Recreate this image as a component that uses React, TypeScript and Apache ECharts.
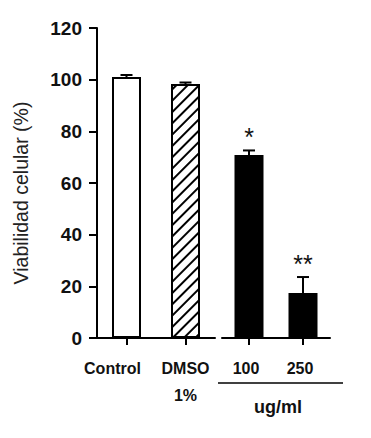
import React, { useEffect, useRef } from "react";
import * as echarts from "echarts";

const groupACategories = ["Control", "DMSO\n1%"];
const groupAValues = [101, 98.3];
const groupAErrors = [0.8, 0.6];
const groupASig = ["", ""];

const groupBCategories = ["100", "250"];
const groupBValues = [70.8, 17.4];
const groupBErrors = [1.8, 6.2];
const groupBSig = ["*", "**"];

const yTicks = { min: 0, max: 120, interval: 20 };
const yAxisName = "Viabilidad celular (%)";
const unitLabel = "ug/ml";

const errorSeries = (xi: number, values: number[], errs: number[], sig: string[]) => ({
  type: "custom",
  xAxisIndex: xi,
  yAxisIndex: xi,
  z: 5,
  data: values.map((v, i) => [i, v, errs[i]]),
  renderItem: (params: any, api: any) => {
    const x = api.value(0);
    const v = api.value(1);
    const e = api.value(2);
    const base = api.coord([x, v]);
    const top = api.coord([x, v + e]);
    const s = sig[params.dataIndex];
    const children: any[] = [
      { type: "line", shape: { x1: base[0], y1: base[1], x2: top[0], y2: top[1] }, style: { stroke: "#000", lineWidth: 2 } },
      { type: "line", shape: { x1: top[0] - 6, y1: top[1], x2: top[0] + 6, y2: top[1] }, style: { stroke: "#000", lineWidth: 2 } },
    ];
    if (s) {
      children.push({
        type: "text",
        style: { text: s, x: top[0], y: top[1] - 1, align: "center", verticalAlign: "bottom", fontSize: 25, fontFamily: "Liberation Sans", fill: "#111" },
      });
    }
    return { type: "group", children };
  },
});

export default function App() {
  const ref = useRef<HTMLDivElement>(null);
  useEffect(() => {
    if (!ref.current) return;
    const chart = echarts.init(ref.current, null, { renderer: "svg" });
    const axisLine = { show: true, lineStyle: { color: "#000", width: 2 } };
    const xLabel = {
      color: "#111",
      fontWeight: "bold",
      fontSize: 16,
      fontFamily: "Liberation Sans",
      margin: 17,
      lineHeight: 27,
      interval: 0,
    };
    chart.setOption({
      animation: false,
      backgroundColor: "#fff",
      grid: [
        { left: 97, width: 118, top: 28, bottom: 100 },
        { left: 222, width: 108, top: 28, bottom: 100 },
      ],
      xAxis: [
        {
          type: "category",
          gridIndex: 0,
          data: groupACategories,
          axisLine,
          axisTick: { show: true, alignWithLabel: true, length: 7, lineStyle: { color: "#000", width: 2 } },
          axisLabel: {
            ...xLabel,
            formatter: (v: string) => (v === "Control" ? "{c|Control}" : v),
            rich: { c: { fontWeight: "bold", fontSize: 16, fontFamily: "Liberation Sans", color: "#111", padding: [0, 28, 0, 0] } },
          },
        },
        {
          type: "category",
          gridIndex: 1,
          data: groupBCategories,
          axisLine,
          axisTick: { show: true, alignWithLabel: true, length: 7, lineStyle: { color: "#000", width: 2 } },
          axisLabel: { ...xLabel, padding: [0, 6, 0, 0] },
        },
      ],
      yAxis: [
        {
          type: "value",
          gridIndex: 0,
          min: yTicks.min,
          max: yTicks.max,
          interval: yTicks.interval,
          axisLine,
          axisTick: { show: true, length: 8, lineStyle: { color: "#000", width: 2 } },
          splitLine: { show: false },
          axisLabel: { color: "#111", fontWeight: "bold", fontSize: 19, fontFamily: "Liberation Sans", margin: 15 },
          name: yAxisName,
          nameLocation: "middle",
          nameGap: 66,
          nameTextStyle: { color: "#222", fontSize: 19.5, fontFamily: "Liberation Sans", padding: [0, 20, 0, 0] },
        },
        {
          type: "value",
          gridIndex: 1,
          min: yTicks.min,
          max: yTicks.max,
          interval: yTicks.interval,
          show: false,
        },
      ],
      series: [
        {
          type: "bar",
          xAxisIndex: 0,
          yAxisIndex: 0,
          barWidth: 29,
          data: groupAValues.map((v, i) =>
            i === 0
              ? { value: v, itemStyle: { color: "#fff", borderColor: "#000", borderWidth: 2 } }
              : {
                  value: v,
                  itemStyle: {
                    color: "#fff",
                    borderColor: "#000",
                    borderWidth: 2,
                    decal: {
                      symbol: "rect",
                      symbolSize: 1,
                      dashArrayX: [1, 0],
                      dashArrayY: [1.6, 5.5],
                      rotation: -Math.PI / 4,
                      color: "#000",
                      backgroundColor: "#fff",
                    },
                  },
                }
          ),
        },
        errorSeries(0, groupAValues, groupAErrors, groupASig),
        {
          type: "bar",
          xAxisIndex: 1,
          yAxisIndex: 1,
          barWidth: 29,
          itemStyle: { color: "#000", borderColor: "#000", borderWidth: 2 },
          data: groupBValues,
        },
        errorSeries(1, groupBValues, groupBErrors, groupBSig),
      ],
      graphic: [
        { type: "line", shape: { x1: 218, y1: 383, x2: 343, y2: 383 }, style: { stroke: "#000", lineWidth: 1.5 } },
        {
          type: "text",
          x: 278,
          y: 407,
          style: { text: unitLabel, align: "center", verticalAlign: "middle", fontSize: 18, fontWeight: "bold", fontFamily: "Liberation Sans", fill: "#111" },
        },
      ],
    });
    return () => chart.dispose();
  }, []);
  return <div ref={ref} style={{ width: 371, height: 438, position: "absolute", left: 0, top: 0 }} />;
}
